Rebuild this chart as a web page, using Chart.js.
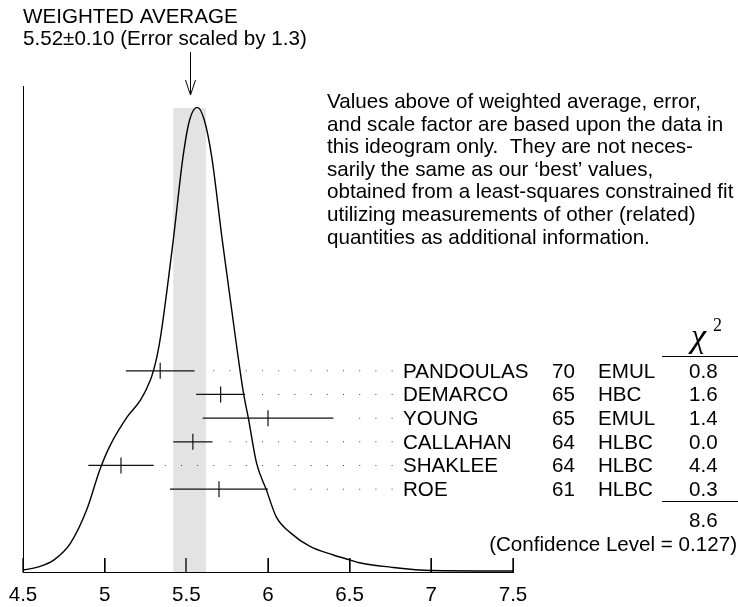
<!DOCTYPE html>
<html>
<head>
<meta charset="utf-8">
<script src="https://cdn.jsdelivr.net/npm/chart.js@4"></script>
<style>
  body { margin: 0; background: #fff; }
  #wrap { width: 738px; height: 607px; }
</style>
</head>
<body>
<div id="wrap"><canvas id="c" width="738" height="607"></canvas></div>
<script>
// ideogram curve
const curveX = [4.50, 4.60, 4.69, 4.79, 4.89, 4.97, 5.03, 5.14, 5.22, 5.28, 5.30, 5.32, 5.345, 5.42, 5.48, 5.52, 5.567, 5.61, 5.655, 5.72, 5.80, 5.85, 5.88, 5.93, 5.99, 6.05, 6.14, 6.26, 6.40, 6.50, 6.56, 6.75, 7.00, 7.50];
const curveY = [0.004, 0.011, 0.025, 0.059, 0.128, 0.210, 0.258, 0.320, 0.354, 0.395, 0.416, 0.443, 0.490, 0.683, 0.855, 0.930, 0.956, 0.930, 0.855, 0.683, 0.484, 0.368, 0.316, 0.224, 0.169, 0.114, 0.080, 0.052, 0.035, 0.025, 0.019, 0.010, 0.003, 0.002];

// measurements
const names = ['PANDOULAS', 'DEMARCO', 'YOUNG', 'CALLAHAN', 'SHAKLEE', 'ROE'];
const years = ['70', '65', '65', '64', '64', '61'];
const techs = ['EMUL', 'HBC', 'EMUL', 'HLBC', 'HLBC', 'HLBC'];
const values = [5.34, 5.71, 6.0, 5.54, 5.1, 5.7];
const errors = [0.21, 0.15, 0.4, 0.12, 0.2, 0.3];
const chi2 = ['0.8', '1.6', '1.4', '0.0', '4.4', '0.3'];
const chi2Sum = '8.6';
const confLevel = '0.127';

// weighted average
const avgValue = 5.52;
const avgError = 0.10;
const scaleFactor = 1.3;

const xTicks = [4.5, 5, 5.5, 6, 6.5, 7, 7.5];

const noteLines = [
    'Values above of weighted average, error,',
    'and scale factor are based upon the data in',
    'this ideogram only.  They are not neces-',
    'sarily the same as our \u2018best\u2019 values,',
    'obtained from a least-squares constrained fit',
    'utilizing measurements of other (related)',
    'quantities as additional information.'
];

// layout (data units of the hidden y scale)
const rowTop = 0.414;
const rowStep = 0.0487;
const bandTop = 0.955;
const dotStart = 5.371, dotStep = 0.0992, dotCount = 15, dotGap = 0.068;

const FONT = '"Liberation Sans", Arial, Helvetica, sans-serif';
const FSIZE = 20.6;
const rowY = i => rowTop - i * rowStep;

const datasets = [];
datasets.push({
    data: curveX.map((x, i) => ({ x: x, y: curveY[i] })),
    showLine: true, borderColor: '#000', borderWidth: 1.4,
    pointRadius: 0, cubicInterpolationMode: 'monotone'
});
values.forEach((v, i) => {
    datasets.push({
        data: [{ x: v - errors[i], y: rowY(i) }, { x: v + errors[i], y: rowY(i) }],
        showLine: true, borderColor: '#111', borderWidth: 1.2, pointRadius: 0
    });
});
datasets.push({
    data: values.map((v, i) => ({ x: v, y: rowY(i) })),
    showLine: false, pointStyle: 'line', rotation: 90, pointRadius: 8,
    borderColor: '#111', pointBorderWidth: 1.2
});
// dotted leaders
const dots = [];
values.forEach((v, i) => {
    for (let k = 0; k < dotCount; k++) {
        const dx = dotStart + k * dotStep;
        if (dx >= v + errors[i] + dotGap) dots.push({ x: dx, y: rowY(i) });
    }
});
datasets.push({
    data: dots, showLine: false, pointStyle: 'rect', pointRadius: 0.7,
    backgroundColor: '#444', borderColor: '#444', pointBorderWidth: 0
});

const decor = {
    id: 'decor',
    beforeDatasetsDraw(chart) {
        const ctx = chart.ctx, xs = chart.scales.x, ys = chart.scales.y;
        const x0 = xs.getPixelForValue(avgValue - avgError);
        const x1 = xs.getPixelForValue(avgValue + avgError);
        const top = ys.getPixelForValue(bandTop);
        ctx.save();
        ctx.fillStyle = '#e3e3e3';
        ctx.fillRect(x0, top, x1 - x0, ys.getPixelForValue(0) - top);
        ctx.restore();
    },
    afterDraw(chart) {
        const ctx = chart.ctx, xs = chart.scales.x, ys = chart.scales.y;
        const base = Math.round(ys.getPixelForValue(0));
        ctx.save();
        ctx.strokeStyle = '#000';
        ctx.lineWidth = 1;
        // left axis line
        const lx = Math.round(xs.getPixelForValue(xTicks[0])) + 0.5;
        ctx.beginPath();
        ctx.moveTo(lx, ys.getPixelForValue(1));
        ctx.lineTo(lx, base);
        ctx.stroke();
        // inward tick marks
        ctx.lineWidth = 1.3;
        xTicks.forEach(t => {
            const px = Math.round(xs.getPixelForValue(t));
            ctx.beginPath();
            ctx.moveTo(px, base + 0.5);
            ctx.lineTo(px, base - 14);
            ctx.stroke();
        });
        ctx.lineWidth = 1;
        // arrow
        const ax = Math.round(xs.getPixelForValue(avgValue)) + 0.5;
        ctx.beginPath();
        ctx.moveTo(ax, 52);
        ctx.lineTo(ax, 95);
        ctx.moveTo(ax - 5, 80);
        ctx.lineTo(ax, 95);
        ctx.lineTo(ax + 5, 80);
        ctx.stroke();

        ctx.fillStyle = '#000';
        ctx.font = FSIZE + 'px ' + FONT;
        ctx.textBaseline = 'alphabetic';
        ctx.textAlign = 'left';
        ctx.fillText('WEIGHTED AVERAGE', 23, 23);
        ctx.fillText(avgValue.toFixed(2) + '\u00b1' + avgError.toFixed(2) +
            ' (Error scaled by ' + scaleFactor.toFixed(1) + ')', 23, 45);

        noteLines.forEach((l, i) => ctx.fillText(l, 327, 108 + i * 22.6));

        // table
        names.forEach((n, i) => {
            const py = ys.getPixelForValue(rowY(i)) + 7;
            ctx.fillText(n, 403, py);
            ctx.fillText(years[i], 552, py);
            ctx.fillText(techs[i], 598, py);
            ctx.fillText(chi2[i], 689, py);
        });
        ctx.fillText(chi2Sum, 689, 527);
        ctx.textAlign = 'right';
        ctx.fillText('(Confidence Level = ' + confLevel + ')', 737, 551);

        // chi^2 header
        ctx.textAlign = 'left';
        ctx.font = 'italic 34px "Liberation Serif", "Times New Roman", serif';
        ctx.fillText('\u03c7', 691, 347);
        ctx.font = '18px "Liberation Serif", "Times New Roman", serif';
        ctx.fillText('2', 713, 331);

        ctx.beginPath();
        ctx.moveTo(662, 356.5);
        ctx.lineTo(738, 356.5);
        ctx.moveTo(662, 501.5);
        ctx.lineTo(738, 501.5);
        ctx.stroke();
        ctx.restore();
    }
};

new Chart(document.getElementById('c'), {
    type: 'scatter',
    data: { datasets: datasets },
    options: {
        responsive: false,
        animation: false,
        layout: { padding: { left: 23, right: 225, top: 86, bottom: 0 } },
        plugins: { legend: { display: false }, tooltip: { enabled: false } },
        scales: {
            x: {
                type: 'linear', min: 4.5, max: 7.5,
                afterBuildTicks: axis => { axis.ticks = xTicks.map(v => ({ value: v })); },
                afterFit: axis => {
                    axis.height = 35;
                    axis.paddingLeft = 0;
                    axis.paddingRight = 0;
                },
                ticks: {
                    color: '#000', padding: 25, font: { family: FONT, size: FSIZE },
                    callback: v => String(+v.toFixed(1))
                },
                // inward tick marks
                grid: {
                    display: true, drawOnChartArea: false, drawTicks: true,
                    tickLength: -14, color: '#000', lineWidth: 1
                },
                border: { display: true, color: '#000', width: 1 }
            },
            y: { display: false, min: 0, max: 1 }
        }
    },
    plugins: [decor]
});
</script>
</body>
</html>
